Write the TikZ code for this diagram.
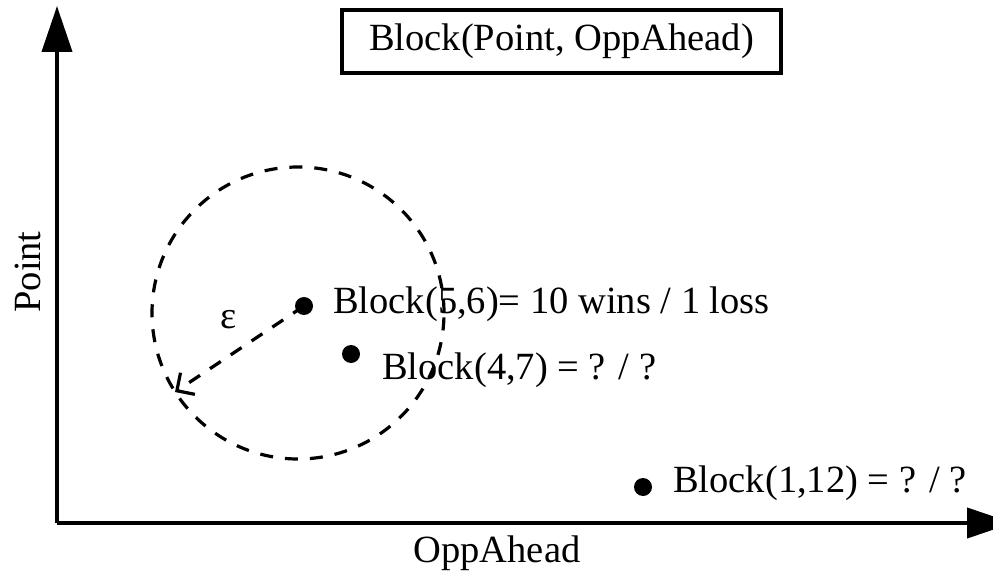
\documentclass[tikz,border=0pt]{standalone}
\usepackage{fontspec}
\setmainfont{Liberation Serif}
\usetikzlibrary{arrows.meta}
\begin{document}
\begin{tikzpicture}[x=1pt,y=-1pt,
  every node/.style={font=\fontsize{38.5}{44}\selectfont, inner sep=0pt},
  axis/.style={line width=4pt, -{Triangle[length=46pt,width=30pt]}},
  ring/.style={line width=3.2pt, dash pattern=on 13pt off 12pt},
  dot/.style={circle, fill=black, minimum size=18pt, inner sep=0pt},
  lbl/.style={anchor=base west}]
\useasboundingbox (0,0) rectangle (993,580);

% axes
\coordinate (o) at (57,523);
\coordinate (ytip) at (57,6);
\coordinate (xtip) at (1013,523);
\draw[axis] (o) -- (ytip);
\draw[axis] (o) -- (xtip);
\node[rotate=90] (ylab) at (28,272) {Point};
\node (xlab) at (497,553) {OppAhead};

% title box
\node[draw, line width=3.3pt, minimum width=439pt, minimum height=63pt] (title) at (561.5,41.5) {Block(Point, OppAhead)};

% neighbourhood of radius epsilon
\coordinate (c) at (298,313);
\draw[ring] (c) circle[radius=146pt];

% blocks
\node[dot] (d1) at (304,306) {};
\node[dot] (d2) at (351,354) {};
\node[dot] (d3) at (643,487) {};
\node[lbl] (l1) at (333,313) {Block(5,6)= 10 wins / 1 loss};
\node[lbl] (l2) at (382,379) {Block(4,7) = ? / ?};
\node[lbl] (l3) at (673,492) {Block(1,12) = ? / ?};

% radius
\coordinate (e) at (175,392);
\draw[ring, -{Straight Barb[length=13pt,width=26pt]}] (d1.center) -- (e);
\node (epslab) at (229,320) {ε};
\end{tikzpicture}
\end{document}
